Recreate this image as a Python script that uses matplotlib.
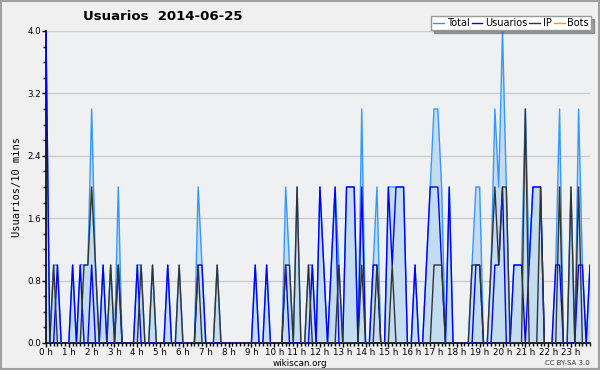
import matplotlib
matplotlib.use("Agg")
import matplotlib.pyplot as plt
from matplotlib.patches import Rectangle
from matplotlib.ticker import MultipleLocator
import numpy as np

# 10-minute slots over the day (144 values)
slots = np.arange(144)

# non-zero values: slot -> value
total_pts = {0: 4, 2: 1, 3: 1, 7: 1, 9: 1, 10: 1, 11: 1, 12: 3, 13: 1, 15: 1, 17: 1, 19: 2,
             24: 1, 25: 1, 28: 1, 32: 1, 35: 1, 40: 2, 41: 1, 45: 1,
             55: 1, 58: 1, 63: 2, 64: 1, 66: 2, 69: 1, 70: 1, 72: 2, 73: 1, 75: 1, 76: 2,
             77: 1, 79: 2, 80: 2, 81: 2, 83: 3, 86: 1, 87: 2, 90: 2, 91: 2, 92: 2, 93: 2,
             94: 2, 97: 1, 100: 1, 101: 2, 102: 3, 103: 3, 104: 2, 106: 2,
             112: 1, 113: 2, 114: 2, 117: 1, 118: 3, 119: 2, 120: 4, 121: 2,
             123: 1, 124: 1, 125: 1, 126: 3, 127: 1, 128: 2, 129: 2, 130: 2,
             134: 1, 135: 3, 138: 2, 140: 3, 141: 1, 143: 1}
usuarios_pts = {0: 4, 3: 1, 7: 1, 9: 1, 12: 1, 15: 1, 19: 1, 24: 1, 32: 1, 40: 1, 41: 1,
                55: 1, 58: 1, 63: 1, 70: 1, 72: 2, 73: 1, 75: 1, 76: 2, 79: 2, 80: 2,
                81: 2, 83: 2, 86: 1, 87: 1, 90: 2, 91: 1, 92: 2, 93: 2, 94: 2, 97: 1,
                100: 1, 101: 2, 102: 2, 103: 2, 104: 1, 106: 2, 113: 1, 114: 1,
                118: 1, 119: 1, 120: 2, 123: 1, 124: 1, 125: 1, 127: 1, 128: 2, 129: 2,
                130: 2, 134: 1, 135: 1, 140: 1, 141: 1, 143: 1}
ip_pts = {2: 1, 10: 1, 11: 1, 12: 2, 13: 1, 17: 1, 19: 1, 25: 1, 28: 1, 35: 1, 40: 1,
          45: 1, 63: 1, 64: 1, 66: 2, 69: 1, 77: 1, 83: 1, 87: 1, 91: 1,
          102: 1, 103: 1, 104: 1, 112: 1, 113: 1, 114: 1, 117: 1, 118: 2, 119: 1,
          120: 2, 121: 2, 126: 3, 130: 2, 135: 2, 138: 2, 140: 2}
bots_pts = {}

hour_labels = ["%d h" % h for h in range(24)]


def to_series(pts):
    s = np.zeros(144)
    for k, v in pts.items():
        s[k] = v
    return s


total = to_series(total_pts)
usuarios = to_series(usuarios_pts)
ip = to_series(ip_pts)
bots = to_series(bots_pts)

fig = plt.figure(figsize=(6, 3.7), dpi=100)
fig.patch.set_facecolor("#f0f0f0")
fig.patches.append(Rectangle((0.002, 0.003), 0.996, 0.994, transform=fig.transFigure,
                             fill=False, edgecolor="#a0a0a0", linewidth=1.5))

ax = fig.add_axes([46 / 600, 27 / 370, 544 / 600, 312 / 370])
ax.set_facecolor("#eef0f2")

ax.plot(slots, bots, color="#ff9900", lw=1, label="Bots", zorder=1)
ax.fill_between(slots, total, color="#c4dcf0", lw=0, zorder=1.5)
ax.plot(slots, total, color="#3399ff", lw=1, label="Total", zorder=2)
ax.plot(slots, usuarios, color="#0000ff", lw=1, label="Usuarios", zorder=3)
ax.plot(slots, ip, color="#333333", lw=1, label="IP", zorder=4)

ax.set_xlim(0, 143)
ax.set_ylim(0, 4.0)
ax.yaxis.set_major_locator(MultipleLocator(0.8))
ax.yaxis.set_minor_locator(MultipleLocator(0.2))
ax.set_yticklabels(["%.1f" % v for v in ax.get_yticks()])
ax.set_xticks(np.arange(0, 144, 6))
ax.set_xticklabels(hour_labels)
ax.xaxis.set_minor_locator(MultipleLocator(1))
ax.tick_params(axis="both", which="major", labelsize=6.3, length=3, width=1, pad=0.5,
               colors="black")
ax.tick_params(axis="both", which="minor", length=2.5, width=1)
ax.yaxis.grid(True, color="#cccccc", lw=1)
ax.set_axisbelow(True)
for side in ["top", "right"]:
    ax.spines[side].set_visible(False)
ax.spines["left"].set_linewidth(1.2)
ax.spines["bottom"].set_linewidth(1.2)

ax.set_ylabel("Usuarios/10 mins", family="DejaVu Sans Mono", fontsize=7.5, labelpad=4)

handles, labels = ax.get_legend_handles_labels()
order = [labels.index(n) for n in ["Total", "Usuarios", "IP", "Bots"]]
leg = fig.legend([handles[i] for i in order], [labels[i] for i in order],
                 loc="upper right", bbox_to_anchor=(591 / 600, 1 - 16 / 370), ncol=4,
                 fontsize=7, frameon=True, fancybox=False, shadow=True,
                 handlelength=1.1, handletextpad=0.3, columnspacing=0.2,
                 borderpad=0.2, borderaxespad=0)
leg.get_frame().set_edgecolor("#999999")
leg.get_frame().set_facecolor("white")

fig.text(163 / 600, 1 - 17 / 370, "Usuarios  2014-06-25", ha="center", va="center",
         fontsize=9.5, fontweight="bold")
fig.text(300 / 600, 1 - 363 / 370, "wikiscan.org", ha="center", va="center", fontsize=6.3)
fig.text(590 / 600, 1 - 363 / 370, "CC BY-SA 3.0", ha="right", va="center", fontsize=5,
         color="#333333")

fig.savefig("out.png", dpi=100, facecolor=fig.get_facecolor())
